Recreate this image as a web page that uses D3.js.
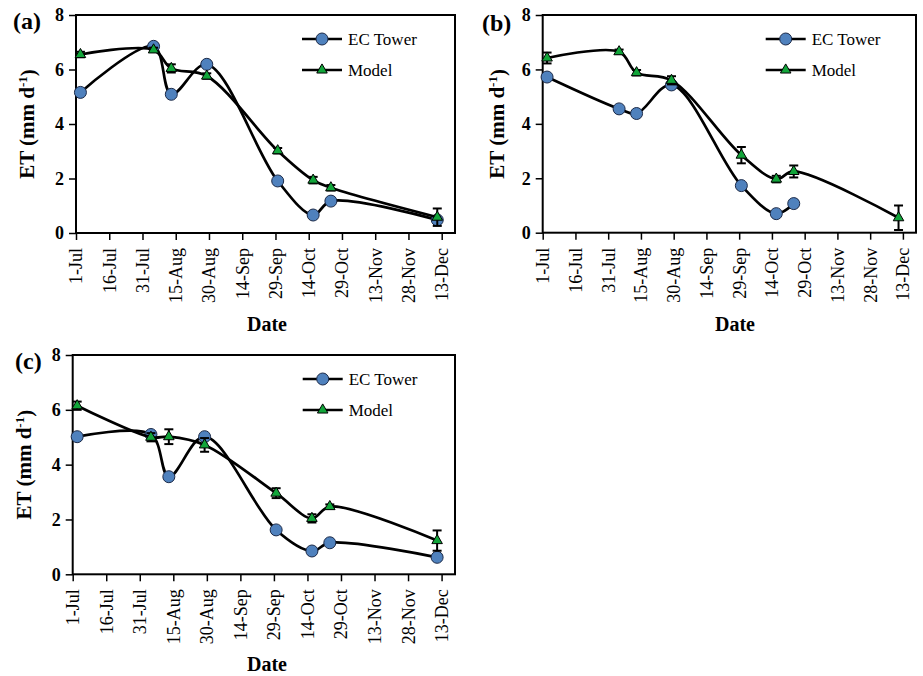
<!DOCTYPE html>
<html>
<head>
<meta charset="utf-8">
<script src="https://cdn.jsdelivr.net/npm/d3@7"></script>
<style>
  body { margin: 0; background: #ffffff; }
  svg { display: block; }
  text { font-family: "Liberation Serif", "Times New Roman", serif; fill: #000; }
</style>
</head>
<body>
<svg id="fig" width="923" height="676"></svg>
<script>
// Observation dates shared by all three panels
const obsDates = ["2009-07-03", "2009-08-05", "2009-08-13", "2009-08-29",
                  "2009-09-30", "2009-10-16", "2009-10-24", "2009-12-11"];

// Date axis: tick positions every 15 days and the axis extent
const tickDates = ["2009-07-01", "2009-07-16", "2009-07-31", "2009-08-15",
                   "2009-08-30", "2009-09-14", "2009-09-29", "2009-10-14",
                   "2009-10-29", "2009-11-13", "2009-11-28", "2009-12-13"];
const axisStart = "2009-07-01";
const axisEnd = "2009-12-19";
const etTicks = [0, 2, 4, 6, 8];

// Panel (a)
const ecA    = [5.16, 6.85, 5.09, 6.19, 1.91, 0.66, 1.17, 0.48];
const modelA = [6.55, 6.72, 6.04, 5.76, 3.02, 1.94, 1.66, 0.58];
const errA   = [0.10, 0.08, 0.15, 0.10, 0.10, 0.12, 0.10, 0.32];

// Panel (b) (no tower value for the December date)
const ecB    = [5.72, 4.55, 4.38, 5.43, 1.73, 0.70, 1.07];
const modelB = [6.42, 6.65, 5.88, 5.60, 2.85, 1.97, 2.25, 0.55];
const errB   = [0.20, 0.08, 0.10, 0.15, 0.30, 0.12, 0.22, 0.45];

// Panel (c)
const ecC    = [5.02, 5.10, 3.56, 5.02, 1.62, 0.85, 1.15, 0.62];
const modelC = [6.15, 5.00, 5.02, 4.72, 2.96, 2.04, 2.47, 1.23];
const errC   = [0.15, 0.15, 0.27, 0.25, 0.18, 0.15, 0.08, 0.37];

const seriesNames = ["EC Tower", "Model"];

const parseDay = d3.timeParse("%Y-%m-%d");
const fmtDay = d3.timeFormat("%-d-%b");

const panels = [
  { tag: "(a)", ec: ecA, model: modelA, err: errA,
    left: 76, top: 15, right: 455, bottom: 233,
    tagX: 13, tagY: 29, titleX: 27, dateX: 267, dateY: 331, legX: 226 },
  { tag: "(b)", ec: ecB, model: modelB, err: errB,
    left: 542.7, top: 15, right: 916, bottom: 232.7,
    tagX: 482, tagY: 31, titleX: 497, dateX: 735, dateY: 331, legX: 223 },
  { tag: "(c)", ec: ecC, model: modelC, err: errC,
    left: 72.7, top: 355, right: 455, bottom: 574.3,
    tagX: 15, tagY: 369, titleX: 24, dateX: 267, dateY: 671, legX: 230 }
];

const ecFill = "#4f81bd", ecStroke = "#1c2a48";
const modelFill = "#12a53a", modelStroke = "#000";
const triangle = d3.symbol().type(d3.symbolTriangle).size(48);

const svg = d3.select("#fig");

panels.forEach(p => {
  const g = svg.append("g");
  const x = d3.scaleTime()
    .domain([parseDay(axisStart), parseDay(axisEnd)])
    .range([p.left, p.right]);
  const y = d3.scaleLinear().domain([0, 8]).range([p.bottom, p.top]);

  // Plot frame
  g.append("rect")
    .attr("x", p.left).attr("y", p.top)
    .attr("width", p.right - p.left).attr("height", p.bottom - p.top)
    .attr("fill", "#fff").attr("stroke", "#000").attr("stroke-width", 2);

  // Date axis
  const xAxis = g.append("g")
    .attr("transform", `translate(0,${p.bottom})`)
    .call(d3.axisBottom(x)
      .tickValues(tickDates.map(parseDay))
      .tickFormat(fmtDay)
      .tickSize(7).tickSizeOuter(0));
  xAxis.select(".domain").remove();
  xAxis.selectAll(".tick line").attr("stroke", "#000").attr("stroke-width", 1.5);
  xAxis.selectAll(".tick text")
    .attr("font-family", "Liberation Serif, serif")
    .attr("font-size", 18)
    .attr("text-anchor", "end")
    .attr("x", 0).attr("y", 0)
    .attr("dy", "0.33em")
    .attr("transform", "translate(0,15) rotate(-90)");

  // ET axis
  const yAxis = g.append("g")
    .attr("transform", `translate(${p.left},0)`)
    .call(d3.axisLeft(y).tickValues(etTicks).tickFormat(d3.format("d"))
      .tickSize(7).tickSizeOuter(0).tickPadding(5));
  yAxis.select(".domain").remove();
  yAxis.selectAll(".tick line").attr("stroke", "#000").attr("stroke-width", 1.5);
  yAxis.selectAll(".tick text")
    .attr("font-family", "Liberation Serif, serif")
    .attr("font-size", 18).attr("font-weight", "bold");

  // Axis titles and panel tag
  const yt = g.append("text")
    .attr("transform", `translate(${p.titleX},${(p.top + p.bottom) / 2}) rotate(-90)`)
    .attr("text-anchor", "middle").attr("dy", "0.35em")
    .attr("font-size", 21).attr("font-weight", "bold");
  yt.append("tspan").text("ET (mm d");
  yt.append("tspan").text("-1").attr("font-size", 13).attr("dy", "-0.55em");
  yt.append("tspan").text(")").attr("dy", "0.38em");

  g.append("text")
    .attr("x", p.dateX).attr("y", p.dateY)
    .attr("text-anchor", "middle")
    .attr("font-size", 20).attr("font-weight", "bold")
    .text("Date");

  g.append("text")
    .attr("x", p.tagX).attr("y", p.tagY)
    .attr("font-size", 24).attr("font-weight", "bold")
    .text(p.tag);

  const line = d3.line()
    .x(d => x(d.date)).y(d => y(d.v))
    .curve(d3.curveCatmullRom.alpha(0.5));

  const ecPts = p.ec.map((v, i) => ({ date: parseDay(obsDates[i]), v }));
  const mPts = p.model.map((v, i) => ({ date: parseDay(obsDates[i]), v, e: p.err[i] }));

  // EC Tower series
  g.append("path").datum(ecPts)
    .attr("d", line).attr("fill", "none")
    .attr("stroke", "#000").attr("stroke-width", 2.7);
  g.selectAll(".ec").data(ecPts).join("circle")
    .attr("cx", d => x(d.date)).attr("cy", d => y(d.v)).attr("r", 6)
    .attr("fill", ecFill).attr("stroke", ecStroke).attr("stroke-width", 1);

  // Model series with error bars
  g.append("path").datum(mPts)
    .attr("d", line).attr("fill", "none")
    .attr("stroke", "#000").attr("stroke-width", 2.7);
  const eb = g.selectAll(".eb").data(mPts).join("g");
  eb.append("line")
    .attr("x1", d => x(d.date)).attr("x2", d => x(d.date))
    .attr("y1", d => y(d.v - d.e)).attr("y2", d => y(d.v + d.e))
    .attr("stroke", "#000").attr("stroke-width", 2);
  [-1, 1].forEach(s => {
    eb.append("line")
      .attr("x1", d => x(d.date) - 4.5).attr("x2", d => x(d.date) + 4.5)
      .attr("y1", d => y(d.v + s * d.e)).attr("y2", d => y(d.v + s * d.e))
      .attr("stroke", "#000").attr("stroke-width", 2);
  });
  g.selectAll(".tri").data(mPts).join("path")
    .attr("d", triangle)
    .attr("transform", d => `translate(${x(d.date)},${y(d.v)})`)
    .attr("fill", modelFill).attr("stroke", modelStroke).attr("stroke-width", 1);

  // Legend
  const lx = p.left + p.legX;
  const legY = [p.top + 24, p.top + 55];
  seriesNames.forEach((name, i) => {
    const ly = legY[i];
    g.append("line")
      .attr("x1", lx).attr("x2", lx + 40).attr("y1", ly).attr("y2", ly)
      .attr("stroke", "#000").attr("stroke-width", 2.7);
    if (i === 0) {
      g.append("circle").attr("cx", lx + 20).attr("cy", ly).attr("r", 6)
        .attr("fill", ecFill).attr("stroke", ecStroke).attr("stroke-width", 1);
    } else {
      g.append("path").attr("d", triangle)
        .attr("transform", `translate(${lx + 20},${ly})`)
        .attr("fill", modelFill).attr("stroke", modelStroke).attr("stroke-width", 1);
    }
    g.append("text")
      .attr("x", lx + 46).attr("y", ly).attr("dy", "0.33em")
      .attr("font-size", 17)
      .text(name);
  });
});
</script>
</body>
</html>
